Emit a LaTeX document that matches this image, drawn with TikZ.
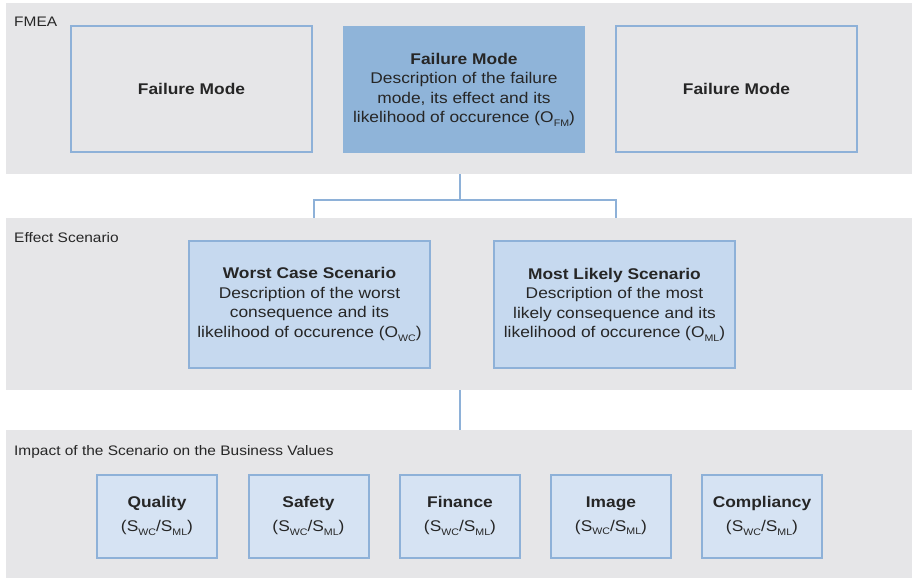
\documentclass[tikz,border=0pt]{standalone}
\usepackage{fontspec}
\setmainfont[FakeStretch=1.12]{Liberation Sans}
\usetikzlibrary{calc}

\definecolor{bandgray}{HTML}{E6E6E8}
\definecolor{edgeblue}{HTML}{8EB1D8}
\definecolor{selblue}{HTML}{8FB4D9}
\definecolor{scenblue}{HTML}{C6D9EF}
\definecolor{valblue}{HTML}{D6E3F3}
\definecolor{inkgray}{HTML}{262626}

\pgfdeclarelayer{links}
\pgfdeclarelayer{bands}
\pgfsetlayers{links,bands,main}

% lowered index text, e.g. O with FM
\newcommand{\lowidx}[1]{\raisebox{-0.45ex}{\fontsize{9.5}{9.5}\selectfont #1}}

\tikzset{
  basebox/.style={rectangle, inner sep=0pt, align=center, text=inkgray,
    font=\fontsize{15.5}{19.5}\selectfont},
  fmbox/.style={basebox, fill=bandgray, draw=edgeblue, line width=2pt,
    minimum width=241, minimum height=126},
  fmsel/.style={basebox, fill=selblue, minimum width=242, minimum height=127},
  scenbox/.style={basebox, fill=scenblue, draw=edgeblue, line width=2pt,
    minimum width=241, minimum height=127},
  valbox/.style={basebox, fill=valblue, draw=edgeblue, line width=2pt,
    minimum width=120, minimum height=83},
  band/.style={fill=bandgray, draw=none},
  bandlabel/.style={anchor=west, inner sep=0pt, text=inkgray,
    font=\fontsize{13.8}{15}\selectfont},
  link/.style={draw=edgeblue, line width=2pt},
}

\begin{document}
\begin{tikzpicture}[x=1pt, y=-1pt]
\useasboundingbox (0,0) rectangle (914,579);

% --- FMEA level
\node[bandlabel] (lblfmea) at (14,22) {FMEA};
\node[fmbox] (fm1) at (191.5,89) {\textbf{Failure Mode}};
\node[fmsel] (fm2) at (464,89.5) {\textbf{Failure Mode}\\Description of the failure\\mode, its effect and its\\likelihood of occurence (O\lowidx{FM})};
\node[fmbox] (fm3) at (736.5,89) {\textbf{Failure Mode}};

% --- effect scenarios
\node[bandlabel] (lblscen) at (14,238) {Effect Scenario};
\node[scenbox] (ws) at (309.5,304.5) {\textbf{Worst Case Scenario}\\Description of the worst\\consequence and its\\likelihood of occurence (O\lowidx{WC})};
\node[scenbox] (ml) at (614.5,304.5) {\textbf{Most Likely Scenario}\\Description of the most\\likely consequence and its\\likelihood of occurence (O\lowidx{ML})};

% --- business values
\node[bandlabel] (lblval) at (14,452) {Impact of the Scenario on the Business Values};
\foreach \nm/\cx/\ttl in {qual/157/Quality, saf/308.5/Safety, fin/460/Finance, img/611/Image, comp/762/Compliancy}
  \node[valbox] (\nm) at (\cx,516) {\textbf{\ttl}\\[4pt](S\lowidx{WC}/S\lowidx{ML})};

% --- bands behind the boxes
\begin{pgfonlayer}{bands}
  \fill[band] (6,3) rectangle (912,174);
  \fill[band] (6,218) rectangle (912,390);
  \fill[band] (6,430) rectangle (912,578);
\end{pgfonlayer}

% --- connectors, hidden where they cross the bands
\begin{pgfonlayer}{links}
  \coordinate (j1) at (460,200);
  \draw[link] (j1 |- fm2.south) -- (j1);
  \draw[link] (j1) -| ([xshift=4pt]ws.north);
  \draw[link] (j1) -| ([xshift=1.5pt]ml.north);
  \draw[link] (fin.north |- ws.south) -- (fin.north);
\end{pgfonlayer}
\end{tikzpicture}
\end{document}
